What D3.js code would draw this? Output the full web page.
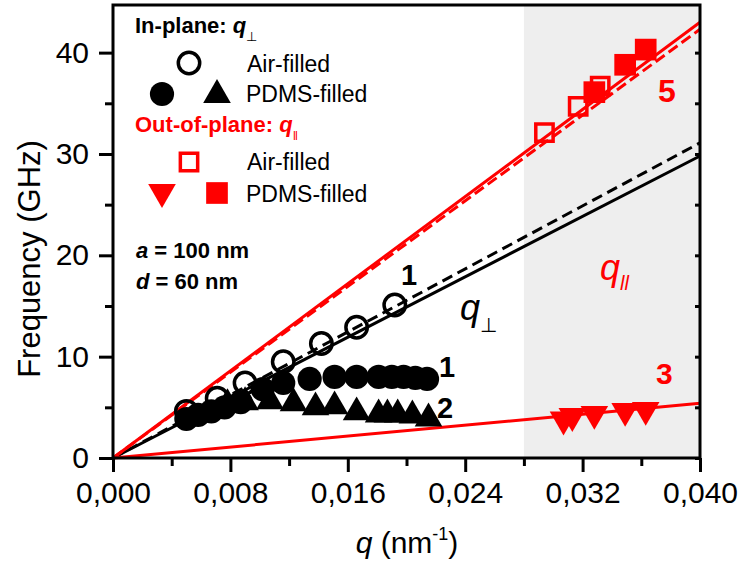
<!DOCTYPE html>
<html>
<head>
<meta charset="utf-8">
<script src="https://cdn.jsdelivr.net/npm/d3@7"></script>
<style>
  body { margin: 0; background: #fff; }
  text { font-family: Arial, "Liberation Sans", sans-serif; }
</style>
</head>
<body>
<script>
// In-plane (q perp), air-filled: open circles
const qAirIn = [0.0050, 0.0071, 0.0090, 0.0116, 0.0142, 0.0166, 0.0192];
const fAirIn = [4.6, 5.9, 7.4, 9.5, 11.3, 12.9, 15.1];

// In-plane, PDMS-filled, mode 1: filled circles
const qPdms1 = [0.0050, 0.0058, 0.0067, 0.0076, 0.0087, 0.0102, 0.0116, 0.0134, 0.0151, 0.0166, 0.0181, 0.0190, 0.0198, 0.0206, 0.0214];
const fPdms1 = [3.85, 4.25, 4.6, 5.0, 5.5, 6.8, 7.4, 7.8, 8.0, 8.0, 8.0, 8.0, 8.0, 7.9, 7.8];

// In-plane, PDMS-filled, mode 2: up triangles
const qPdms2 = [0.0078, 0.0090, 0.0107, 0.0123, 0.0138, 0.0151, 0.0166, 0.0181, 0.0187, 0.0194, 0.0204, 0.0215];
const fPdms2 = [5.3, 5.5, 5.6, 5.4, 5.0, 5.1, 4.5, 4.3, 4.3, 4.3, 4.2, 3.9];

// Out-of-plane (q parallel), air-filled: open squares
const qAirOut = [0.0294, 0.0317, 0.0332];
const fAirOut = [32.1, 34.7, 36.7];

// Out-of-plane, PDMS-filled, mode 5: filled squares
const qPdms5 = [0.0328, 0.0349, 0.0363];
const fPdms5 = [36.1, 38.8, 40.3];

// Out-of-plane, PDMS-filled, mode 3: down triangles
const qPdms3 = [0.0307, 0.0313, 0.0328, 0.0349, 0.0363];
const fPdms3 = [3.8, 4.15, 4.35, 4.65, 4.75];

// fitted dispersion lines (end points)
const fitRedSolid = [[0, 0], [0.040, 43.0]];
const fitRedDash = [[0, 0], [0.040, 42.3]];
const fitBlackSolid = [[0, 0], [0.040, 29.8]];
const fitBlackDash = [[0, 0], [0.040, 31.1]];
const fitRedLow = [[0, 0], [0.040, 5.4]];

const shadeRange = [0.028, 0.040];

const xMajor = [0, 0.008, 0.016, 0.024, 0.032, 0.040];
const xMinor = [0.004, 0.012, 0.020, 0.028, 0.036];
const yMajor = [0, 10, 20, 30, 40];
const yMinor = [5, 15, 25, 35];

const W = 738, H = 565;
const RED = '#ff0000';

const svg = d3.select('body').append('svg')
  .attr('width', W)
  .attr('height', H)
  .attr('xmlns', 'http://www.w3.org/2000/svg');

const x = d3.scaleLinear().domain([0, 0.04]).range([113, 700]);
const y = d3.scaleLinear().domain([0, 44.7]).range([458, 5]);

// shaded q|| region
svg.append('rect')
  .attr('x', x(shadeRange[0]))
  .attr('y', y(44.7))
  .attr('width', x(shadeRange[1]) - x(shadeRange[0]))
  .attr('height', y(0) - y(44.7))
  .attr('fill', '#eeeeee');

// fit lines
const line = d3.line().x(d => x(d[0])).y(d => y(d[1]));
const fits = [
  { d: fitBlackSolid, color: '#000', dash: null },
  { d: fitBlackDash, color: '#000', dash: '11,6' },
  { d: fitRedLow, color: RED, dash: null },
  { d: fitRedDash, color: RED, dash: '11,5' },
  { d: fitRedSolid, color: RED, dash: null }
];
fits.forEach(f => {
  svg.append('path')
    .attr('d', line(f.d))
    .attr('fill', 'none')
    .attr('stroke', f.color)
    .attr('stroke-width', 3)
    .attr('stroke-dasharray', f.dash);
});

// markers
function marker(sel, type, fill, stroke, rot) {
  return sel.append('path')
    .attr('d', d3.symbol().type(type.t).size(type.s)())
    .attr('fill', fill)
    .attr('stroke', stroke)
    .attr('stroke-width', stroke === 'none' ? 0 : 3.5)
    .attr('transform', rot ? 'rotate(180)' : null);
}
const CIRC = { t: d3.symbolCircle, s: 460 };
const CIRC_OPEN = { t: d3.symbolCircle, s: 360 };
const TRI = { t: d3.symbolTriangle, s: 330 };
const SQ = { t: d3.symbolSquare, s: 470 };
const SQ_OPEN = { t: d3.symbolSquare, s: 300 };

function series(qs, fs, type, fill, stroke, rot) {
  qs.forEach((q, i) => {
    const g = svg.append('g').attr('transform', `translate(${x(q)},${y(fs[i])})`);
    marker(g, type, fill, stroke, rot);
  });
}

series(qPdms2, fPdms2, TRI, '#000', 'none', false);
series(qPdms1, fPdms1, CIRC, '#000', 'none', false);
series(qAirIn, fAirIn, CIRC_OPEN, 'none', '#000', false);
series(qPdms3, fPdms3, TRI, RED, 'none', true);
series(qAirOut, fAirOut, SQ_OPEN, 'none', RED, false);
series(qPdms5, fPdms5, SQ, RED, 'none', false);

// axes
const fmtX = v => d3.format('.3f')(v).replace('.', ',');
const xAxis = svg.append('g').attr('transform', `translate(0,${y(0)})`)
  .call(d3.axisBottom(x).tickValues(xMajor).tickSize(14).tickPadding(10).tickFormat(fmtX));
const xAxisMinor = svg.append('g').attr('transform', `translate(0,${y(0)})`)
  .call(d3.axisBottom(x).tickValues(xMinor).tickSize(8).tickFormat(''));
const yAxis = svg.append('g').attr('transform', `translate(${x(0)},0)`)
  .call(d3.axisLeft(y).tickValues(yMajor).tickSize(14).tickPadding(10));
const yAxisMinor = svg.append('g').attr('transform', `translate(${x(0)},0)`)
  .call(d3.axisLeft(y).tickValues(yMinor).tickSize(8).tickFormat(''));
const rAxis = svg.append('g').attr('transform', `translate(${x(0.04)},0)`)
  .call(d3.axisRight(y).tickValues(yMajor.concat(yMinor)).tickSize(-5).tickFormat(''));

[xAxis, xAxisMinor, yAxis, yAxisMinor, rAxis].forEach(a => {
  a.select('.domain').remove();
  a.selectAll('line').attr('stroke', '#000').attr('stroke-width', 3);
  a.selectAll('text').attr('font-size', 30).attr('fill', '#000')
    .attr('font-family', 'Arial, "Liberation Sans", sans-serif');
});

// frame
svg.append('rect')
  .attr('x', x(0)).attr('y', y(44.7))
  .attr('width', x(0.04) - x(0)).attr('height', y(0) - y(44.7))
  .attr('fill', 'none').attr('stroke', '#000').attr('stroke-width', 3);

// axis titles
const xt = svg.append('text')
  .attr('x', 407).attr('y', 553)
  .attr('text-anchor', 'middle')
  .attr('font-size', 30);
xt.append('tspan').attr('font-style', 'italic').text('q');
xt.append('tspan').text(' (nm');
xt.append('tspan').attr('font-size', 18).attr('dy', -13).text('-1');
xt.append('tspan').attr('dy', 13).text(')');

svg.append('text')
  .attr('transform', 'translate(40,259) rotate(-90)')
  .attr('text-anchor', 'middle')
  .attr('font-size', 31)
  .text('Frequency (GHz)');

// legend
const lg = svg.append('g');
const t1 = lg.append('text').attr('x', 135).attr('y', 33).attr('font-size', 22).attr('font-weight', 'bold');
t1.append('tspan').text('In-plane: ');
t1.append('tspan').attr('font-style', 'italic').text('q');
t1.append('tspan').attr('font-size', 13).attr('font-weight', 'normal').attr('dy', 8).text('\u22A5');

const legItem = (cx, cy, type, fill, stroke, rot) => {
  const g = lg.append('g').attr('transform', `translate(${cx},${cy})`);
  marker(g, type, fill, stroke, rot);
};
legItem(189, 63, CIRC_OPEN, 'none', '#000', false);
lg.append('text').attr('x', 247).attr('y', 72).attr('font-size', 23).text('Air-filled');
legItem(162, 94, CIRC, '#000', 'none', false);
legItem(217, 95, TRI, '#000', 'none', false);
lg.append('text').attr('x', 246).attr('y', 102).attr('font-size', 23).text('PDMS-filled');

const t2 = lg.append('text').attr('x', 135).attr('y', 132).attr('font-size', 22)
  .attr('font-weight', 'bold').attr('fill', RED);
t2.append('tspan').text('Out-of-plane: ');
t2.append('tspan').attr('font-style', 'italic').text('q');
t2.append('tspan').attr('font-size', 13).attr('font-weight', 'normal').attr('dy', 8).text('\u2016');

legItem(189, 162, SQ_OPEN, 'none', RED, false);
lg.append('text').attr('x', 247).attr('y', 170).attr('font-size', 23).text('Air-filled');
legItem(162, 192, TRI, RED, 'none', true);
legItem(217, 193, SQ, RED, 'none', false);
lg.append('text').attr('x', 246).attr('y', 202).attr('font-size', 23).text('PDMS-filled');

// parameters
const p1 = svg.append('text').attr('x', 136).attr('y', 258).attr('font-size', 22).attr('font-weight', 'bold');
p1.append('tspan').attr('font-style', 'italic').text('a');
p1.append('tspan').text(' = 100 nm');
const p2 = svg.append('text').attr('x', 136).attr('y', 289).attr('font-size', 22).attr('font-weight', 'bold');
p2.append('tspan').attr('font-style', 'italic').text('d');
p2.append('tspan').text(' = 60 nm');

// mode labels
const lbl = (tx, ty, s, color, size) => svg.append('text')
  .attr('x', tx).attr('y', ty).attr('font-size', size).attr('font-weight', 'bold')
  .attr('fill', color).text(s);
lbl(401, 285, '1', '#000', 29);
lbl(439, 377, '1', '#000', 29);
lbl(437, 418, '2', '#000', 29);
lbl(658, 102, '5', RED, 32);
lbl(656, 384, '3', RED, 30);

const qp = svg.append('text').attr('x', 460).attr('y', 320).attr('font-size', 36).attr('font-style', 'italic');
qp.append('tspan').text('q');
qp.append('tspan').attr('font-size', 20).attr('font-style', 'normal').attr('dy', 12).text('\u22A5');

const qpar = svg.append('text').attr('x', 600).attr('y', 280).attr('font-size', 36)
  .attr('font-style', 'italic').attr('fill', RED);
qpar.append('tspan').text('q');
qpar.append('tspan').attr('font-size', 20).attr('dy', 10).text('ll');
</script>
</body>
</html>
